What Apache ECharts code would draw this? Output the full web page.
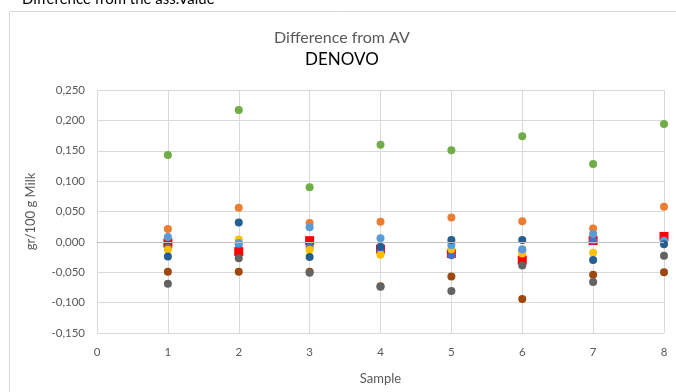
<!DOCTYPE html>
<html>
<head>
<meta charset="utf-8">
<script src="https://cdn.jsdelivr.net/npm/echarts@6/dist/echarts.min.js"></script>
<style>
    html, body { margin: 0; padding: 0; background: #fff; }
    #chart { width: 676px; height: 392px; }
</style>
</head>
<body>
<div id="chart"></div>
<script>
// sample numbers on the x axis
const samples = [1, 2, 3, 4, 5, 6, 7, 8]

// difference from the assigned value, per series (gr/100 g)
const redSquare = [-0.002, -0.016, 0.002, -0.012, -0.019, -0.030, 0.002, 0.009]
const blue = [-0.010, -0.004, -0.008, -0.015, -0.022, -0.014, 0.002, 0.000]
const orange = [0.021, 0.056, 0.031, 0.033, 0.040, 0.034, 0.022, 0.058]
const yellow = [-0.013, 0.004, -0.013, -0.021, -0.012, -0.019, -0.018, -0.002]
const lightBlue = [0.008, -0.002, 0.024, 0.006, -0.005, -0.012, 0.013, 0.002]
const green = [0.143, 0.217, 0.090, 0.160, 0.151, 0.174, 0.128, 0.194]
const darkBlue = [-0.024, 0.032, -0.025, -0.008, 0.003, 0.003, -0.030, -0.004]
const brown = [-0.049, -0.049, -0.049, -0.073, -0.057, -0.094, -0.054, -0.050]
const darkGray = [-0.069, -0.027, -0.051, -0.074, -0.081, -0.039, -0.066, -0.023]

const font = 'Lato, "Open Sans", sans-serif'
const textGray = '#595959'

// series list: [name, values, colour, symbol, size]
const seriesDefs = [
    ['Red', redSquare, '#ff0000', 'rect', 9],
    ['Blue', blue, '#4472c4', 'circle', 8],
    ['Orange', orange, '#ed7d31', 'circle', 8],
    ['Yellow', yellow, '#ffc000', 'circle', 8],
    ['Light blue', lightBlue, '#5b9bd5', 'circle', 8],
    ['Green', green, '#70ad47', 'circle', 8],
    ['Dark blue', darkBlue, '#255e91', 'circle', 8],
    ['Brown', brown, '#9e480e', 'circle', 8],
    ['Dark gray', darkGray, '#636363', 'circle', 8],
]

const series = seriesDefs.map(([name, vals, color, symbol, size]) => ({
    name: name,
    type: 'scatter',
    symbol: symbol,
    symbolSize: size,
    itemStyle: { color: color, opacity: 1 },
    data: samples.map((s, i) => [s, vals[i]]),
}))

//zero line (Excel draws the horizontal axis here)
series[0].markLine = {
    silent: true,
    symbol: 'none',
    label: { show: false },
    lineStyle: { color: '#bfbfbf', width: 1, type: 'solid' },
    data: [{ yAxis: 0 }],
}

const myChart = echarts.init(document.getElementById('chart'))

myChart.setOption({
    animation: false,
    textStyle: { fontFamily: font },
    title: {
        text: 'Difference from AV',
        subtext: 'DENOVO',
        left: 337,
        textAlign: 'center',
        top: 25,
        itemGap: 5,
        textStyle: { fontFamily: font, fontSize: 16, fontWeight: 'normal', color: textGray },
        subtextStyle: { fontFamily: font, fontSize: 17, color: '#000' },
    },
    graphic: [
        {
            type: 'rect',
            shape: { x: 9.5, y: 11.5, width: 720, height: 420 },
            style: { fill: 'none', stroke: '#d9d9d9', lineWidth: 1 },
            silent: true,
        },
        {
            type: 'text',
            left: 22,
            top: -8,
            style: { text: 'Difference from the ass.Value', font: '15px ' + font, fill: '#000' },
            silent: true,
        },
    ],
    grid: { left: 97, right: 12, top: 90, bottom: 59 },
    xAxis: {
        type: 'value',
        min: 0,
        max: 8,
        interval: 1,
        name: 'Sample',
        nameLocation: 'middle',
        nameGap: 39,
        nameTextStyle: { color: textGray, fontSize: 13, fontFamily: font },
        axisLine: { show: false },
        axisTick: { show: false },
        axisLabel: { color: textGray, fontSize: 11.5, margin: 13 },
        splitLine: { lineStyle: { color: '#d9d9d9' } },
    },
    yAxis: {
        type: 'value',
        min: -0.15,
        max: 0.25,
        interval: 0.05,
        name: 'gr/100 g Milk',
        nameLocation: 'middle',
        nameGap: 60,
        nameTextStyle: { color: textGray, fontSize: 13, fontFamily: font },
        axisLine: { show: false },
        axisTick: { show: false },
        axisLabel: {
            color: textGray,
            fontSize: 11.5,
            margin: 12,
            formatter: (v) => v.toFixed(3).replace('.', ','),
        },
        splitLine: { lineStyle: { color: '#d9d9d9' } },
    },
    series: series,
})
</script>
</body>
</html>
